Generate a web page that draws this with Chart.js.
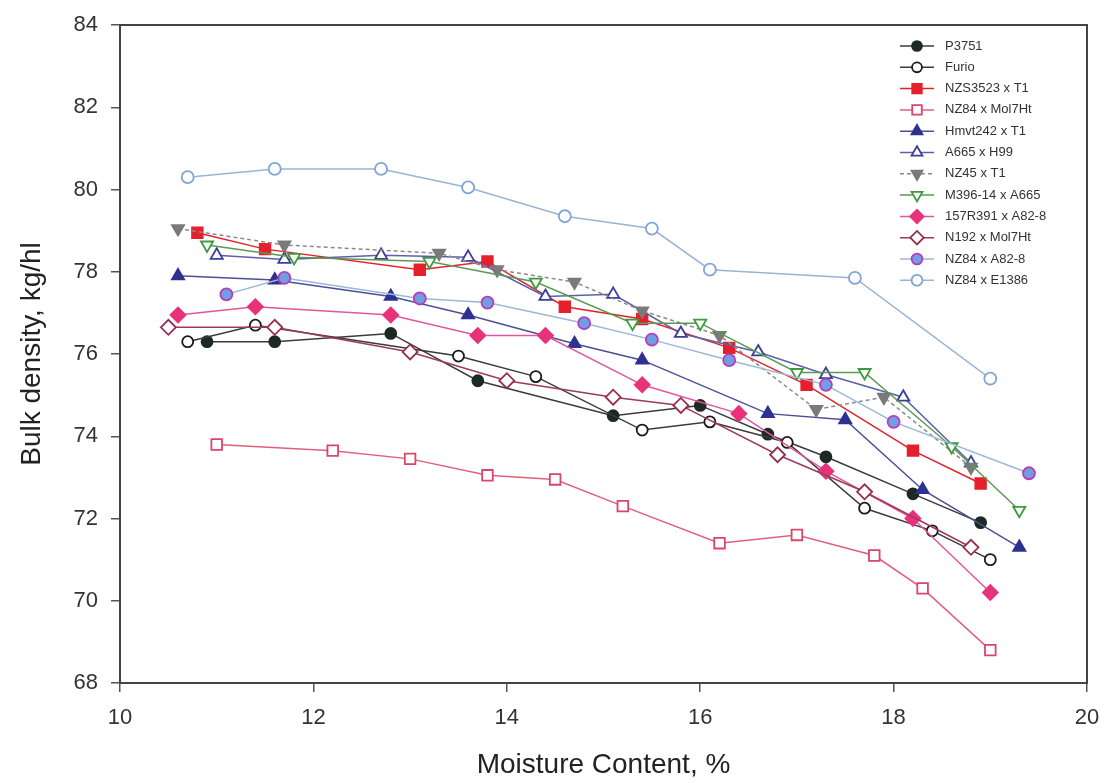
<!DOCTYPE html>
<html>
<head>
<meta charset="utf-8">
<script src="https://cdn.jsdelivr.net/npm/chart.js@4"></script>
<style>
  html, body { margin: 0; padding: 0; background: #fff; }
  #wrap { width: 1109px; height: 783px; position: relative; }
</style>
</head>
<body>
<div id="wrap"><canvas id="chart"></canvas></div>
<script>
// axis ticks
const xTicks = [10, 12, 14, 16, 18, 20]
const yTicks = [68, 70, 72, 74, 76, 78, 80, 82, 84]

// series names
const names = ['P3751', 'Furio', 'NZS3523 x T1', 'NZ84 x Mol7Ht', 'Hmvt242 x T1', 'A665 x H99',
  'NZ45 x T1', 'M396-14 x A665', '157R391 x A82-8', 'N192 x Mol7Ht', 'NZ84 x A82-8', 'NZ84 x E1386']

// moisture content (x) and bulk density (y) per hybrid
const p3751X = [10.9, 11.6, 12.8, 13.7, 15.1, 16.0, 16.7, 17.3, 18.2, 18.9]
const p3751Y = [76.3, 76.3, 76.5, 75.35, 74.5, 74.75, 74.05, 73.5, 72.6, 71.9]
const furioX = [10.7, 11.4, 13.5, 14.3, 15.4, 16.1, 16.9, 17.7, 18.4, 19.0]
const furioY = [76.3, 76.7, 75.95, 75.45, 74.15, 74.35, 73.85, 72.25, 71.7, 71.0]
const nzs3523X = [10.8, 11.5, 13.1, 13.8, 14.6, 15.4, 16.3, 17.1, 18.2, 18.9]
const nzs3523Y = [78.95, 78.55, 78.05, 78.25, 77.15, 76.85, 76.15, 75.25, 73.65, 72.85]
const nz84MolX = [11.0, 12.2, 13.0, 13.8, 14.5, 15.2, 16.2, 17.0, 17.8, 18.3, 19.0]
const nz84MolY = [73.8, 73.65, 73.45, 73.05, 72.95, 72.3, 71.4, 71.6, 71.1, 70.3, 68.8]
const hmvtX = [10.6, 11.6, 12.8, 13.6, 14.7, 15.4, 16.7, 17.5, 18.3, 19.3]
const hmvtY = [77.9, 77.8, 77.4, 76.95, 76.25, 75.85, 74.55, 74.4, 72.7, 71.3]
const a665X = [11.0, 11.7, 12.7, 13.6, 14.4, 15.1, 15.8, 16.6, 17.3, 18.1, 18.8]
const a665Y = [78.4, 78.3, 78.4, 78.35, 77.4, 77.45, 76.5, 76.05, 75.5, 74.95, 73.35]
const nz45X = [10.6, 11.7, 13.3, 13.9, 14.7, 15.4, 16.2, 17.2, 17.9, 18.8]
const nz45Y = [79.05, 78.65, 78.45, 78.05, 77.75, 77.05, 76.45, 74.65, 74.95, 73.25]
const m396X = [10.9, 11.8, 13.2, 14.3, 15.3, 16.0, 17.0, 17.7, 18.6, 19.3]
const m396Y = [78.65, 78.35, 78.25, 77.75, 76.75, 76.75, 75.55, 75.55, 73.75, 72.2]
const r157X = [10.6, 11.4, 12.8, 13.7, 14.4, 15.4, 16.4, 17.3, 18.2, 19.0]
const r157Y = [76.95, 77.15, 76.95, 76.45, 76.45, 75.25, 74.55, 73.15, 72.0, 70.2]
const n192X = [10.5, 11.6, 13.0, 14.0, 15.1, 15.8, 16.8, 17.7, 18.8]
const n192Y = [76.65, 76.65, 76.05, 75.35, 74.95, 74.75, 73.55, 72.65, 71.3]
const nz84A82X = [11.1, 11.7, 13.1, 13.8, 14.8, 15.5, 16.3, 17.3, 18.0, 19.4]
const nz84A82Y = [77.45, 77.85, 77.35, 77.25, 76.75, 76.35, 75.85, 75.25, 74.35, 73.1]
const e1386X = [10.7, 11.6, 12.7, 13.6, 14.6, 15.5, 16.1, 17.6, 19.0]
const e1386Y = [80.3, 80.5, 80.5, 80.05, 79.35, 79.05, 78.05, 77.85, 75.4]

const xs = [p3751X, furioX, nzs3523X, nz84MolX, hmvtX, a665X, nz45X, m396X, r157X, n192X, nz84A82X, e1386X]
const ys = [p3751Y, furioY, nzs3523Y, nz84MolY, hmvtY, a665Y, nz45Y, m396Y, r157Y, n192Y, nz84A82Y, e1386Y]

// look of each series
const styles = [
  { line: '#3a3a3a', edge: '#1d2a24', fill: '#1d2a24', shape: 'circle', r: 5.5, rot: 0 },
  { line: '#3a3a3a', edge: '#1a1a1a', fill: '#ffffff', shape: 'circle', r: 5.5, rot: 0 },
  { line: '#e5202c', edge: '#e5202c', fill: '#e5202c', shape: 'rect', r: 7.5, rot: 0 },
  { line: '#e0607a', edge: '#d9466a', fill: '#ffffff', shape: 'rect', r: 7.5, rot: 0 },
  { line: '#4b4f96', edge: '#2e3192', fill: '#2e3192', shape: 'triangle', r: 7, rot: 0 },
  { line: '#5d60a8', edge: '#3b3f95', fill: '#ffffff', shape: 'triangle', r: 7, rot: 0 },
  { line: '#8a8a8a', edge: '#7a7a7a', fill: '#7a7a7a', shape: 'triangle', r: 7, rot: 180, dash: [4, 3] },
  { line: '#5a9a55', edge: '#3f9a3f', fill: '#ffffff', shape: 'triangle', r: 7, rot: 180 },
  { line: '#e2569a', edge: '#e8327a', fill: '#e8327a', shape: 'rectRot', r: 7.5, rot: 0 },
  { line: '#9b3a5c', edge: '#962d52', fill: '#ffffff', shape: 'rectRot', r: 7.5, rot: 0 },
  { line: '#9bb8d6', edge: '#b83cb8', fill: '#6f9fe2', shape: 'circle', r: 6, rot: 0 },
  { line: '#9ab4d4', edge: '#7ea5d4', fill: '#ffffff', shape: 'circle', r: 6, rot: 0 }
]

const datasets = names.map((name, i) => {
  const s = styles[i]
  return {
    label: name,
    data: xs[i].map((x, j) => ({ x: x, y: ys[i][j] })),
    showLine: true,
    borderColor: s.line,
    borderWidth: 1.5,
    borderDash: s.dash || [],
    pointStyle: s.shape,
    pointRotation: s.rot,
    pointRadius: s.r,
    pointHoverRadius: s.r,
    pointBackgroundColor: s.fill,
    pointBorderColor: s.edge,
    pointBorderWidth: 1.8,
    order: 12 - i
  }
})

// box round the plot
const frame = {
  id: 'frame',
  afterDraw(chart) {
    const a = chart.chartArea
    const ctx = chart.ctx
    ctx.save()
    ctx.strokeStyle = '#444'
    ctx.lineWidth = 2
    ctx.strokeRect(a.left, a.top, a.right - a.left, a.bottom - a.top)
    ctx.restore()
  }
}

// legend drawn inside the plot, top right
const insideLegend = {
  id: 'insideLegend',
  afterDraw(chart) {
    const ctx = chart.ctx
    ctx.save()
    ctx.font = '13px "Liberation Sans", Arial, sans-serif'
    ctx.textBaseline = 'middle'
    names.forEach((name, i) => {
      const s = styles[i]
      const y = 46 + i * 21.3
      ctx.strokeStyle = s.line
      ctx.lineWidth = 1.5
      ctx.setLineDash(s.dash || [])
      ctx.beginPath()
      ctx.moveTo(900, y)
      ctx.lineTo(934, y)
      ctx.stroke()
      ctx.setLineDash([])
      ctx.fillStyle = s.fill
      ctx.strokeStyle = s.edge
      ctx.lineWidth = 1.8
      Chart.helpers.drawPoint(ctx, { pointStyle: s.shape, rotation: s.rot, radius: s.r * 0.9, borderWidth: 1.8 }, 917, y)
      ctx.fillStyle = '#333'
      ctx.fillText(name, 945, y)
    })
    ctx.restore()
  }
}

new Chart(document.getElementById('chart'), {
  type: 'scatter',
  data: { datasets: datasets },
  plugins: [frame, insideLegend],
  options: {
    responsive: true,
    maintainAspectRatio: false,
    animation: false,
    layout: { padding: { top: 25, right: 22, left: 0, bottom: 0 } },
    plugins: { legend: { display: false }, tooltip: { enabled: false } },
    scales: {
      x: {
        type: 'linear',
        min: 10,
        max: 20,
        afterBuildTicks: (scale) => { scale.ticks = xTicks.map(v => ({ value: v })) },
        afterFit: (scale) => {
          scale.height = 100
          scale.paddingLeft = 0
          scale.paddingRight = 0
        },
        grid: { drawOnChartArea: false, drawTicks: true, tickLength: 9, color: '#555', lineWidth: 1.5 },
        border: { display: true, color: '#444', width: 2 },
        ticks: { color: '#333', padding: 13, font: { family: 'Liberation Sans', size: 22 } },
        title: {
          display: true,
          text: 'Moisture Content, %',
          color: '#222',
          font: { family: 'Liberation Sans', size: 28 },
          padding: { top: 0, bottom: 1 }
        }
      },
      y: {
        type: 'linear',
        min: 68,
        max: 84,
        afterBuildTicks: (scale) => { scale.ticks = yTicks.map(v => ({ value: v })) },
        afterFit: (scale) => {
          scale.width = 120
          scale.paddingTop = 0
          scale.paddingBottom = 0
        },
        grid: { drawOnChartArea: false, drawTicks: true, tickLength: 9, color: '#555', lineWidth: 1.5 },
        border: { display: true, color: '#444', width: 2 },
        ticks: { color: '#333', padding: 13, font: { family: 'Liberation Sans', size: 22 } },
        title: {
          display: true,
          text: 'Bulk density, kg/hl',
          color: '#222',
          font: { family: 'Liberation Sans', size: 28 },
          padding: { top: 15, bottom: 0 }
        }
      }
    }
  }
})
</script>
</body>
</html>
